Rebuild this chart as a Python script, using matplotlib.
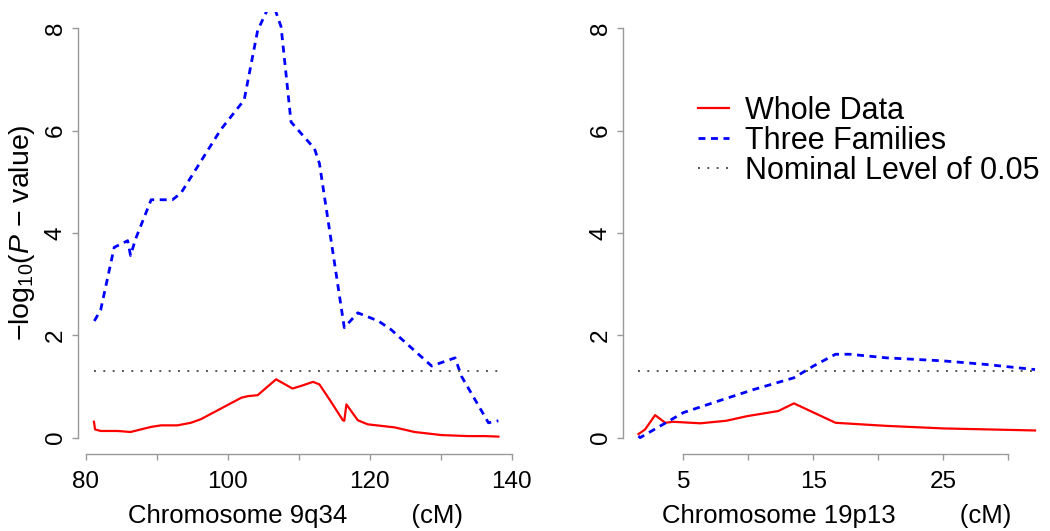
import numpy as np
import matplotlib
matplotlib.use("Agg")
import matplotlib.pyplot as plt

plt.rcParams['font.family'] = ['Liberation Sans', 'DejaVu Sans']
plt.rcParams['mathtext.fontset'] = 'custom'
plt.rcParams['mathtext.rm'] = 'Liberation Sans'
plt.rcParams['mathtext.it'] = 'Liberation Sans:italic'

# chromosome 9q34 (cM, -log10 p)
cm9_three = [81.2, 82.1, 84.0, 85.9, 86.3, 87.0, 89.2, 92.2, 93.4, 99.0, 102.3,
             104.2, 106.2, 107.5, 108.9, 112.2, 112.9, 116.4, 118.3, 121.2,
             123.0, 128.7, 132.0, 132.9, 136.7, 138.1]
p9_three = [2.28, 2.5, 3.72, 3.85, 3.56, 3.88, 4.65, 4.65, 4.78, 6.02, 6.6,
            7.96, 8.55, 8.03, 6.17, 5.65, 5.36, 2.15, 2.44, 2.28,
            2.11, 1.40, 1.56, 1.20, 0.29, 0.33]

cm9_whole = [81.15, 81.3, 82.1, 84.5, 86.3, 89.2, 90.6, 92.9, 94.8, 96.2, 101.9,
             102.8, 104.2, 106.8, 109.1, 110.3, 112.0, 112.9, 114.3, 116.2,
             116.4, 116.7, 118.3, 119.7, 123.5, 126.3, 130.1, 133.8, 136.2, 138.1]
p9_whole = [0.31, 0.16, 0.13, 0.13, 0.11, 0.21, 0.24, 0.24, 0.29, 0.36, 0.78,
            0.81, 0.83, 1.14, 0.96, 1.01, 1.09, 1.04, 0.75, 0.34,
            0.33, 0.65, 0.34, 0.26, 0.20, 0.11, 0.05, 0.03, 0.03, 0.02]

# chromosome 19p13
cm19_three = [1.54, 1.67, 5.0, 8.1, 10.4, 13.5, 15.0, 16.7, 17.8, 20.6, 25.0, 28.3, 32.05]
p19_three = [0.03, 0.0, 0.49, 0.75, 0.94, 1.17, 1.40, 1.63, 1.63, 1.56, 1.50, 1.43, 1.33]

cm19_whole = [1.54, 2.05, 2.82, 3.6, 4.2, 6.3, 8.3, 9.9, 12.3, 13.5, 16.7, 20.6, 25.0, 32.05]
p19_whole = [0.07, 0.16, 0.44, 0.29, 0.31, 0.28, 0.33, 0.42, 0.52, 0.67, 0.29, 0.23, 0.18, 0.14]

nominal = -np.log10(0.05)

W, H = 1050, 531
fig = plt.figure(figsize=(W / 100, H / 100), dpi=100)

def px_axes(x0, x1, y0, y1):
    return fig.add_axes([x0 / W, 1 - y1 / H, (x1 - x0) / W, (y1 - y0) / H])

ax1 = px_axes(78, 514, 12, 454)
ax2 = px_axes(623, 1050, 12, 454)

panels = [
    (ax1, cm9_whole, p9_whole, cm9_three, p9_three, (78.9, 140.3),
     np.arange(80, 141, 10), [80, 100, 120, 140], "Chromosome 9q34         (cM)", (80, 140)),
    (ax2, cm19_whole, p19_whole, cm19_three, p19_three, (0.35, 33.2),
     np.arange(5, 31, 5), [5, 15, 25], "Chromosome 19p13         (cM)", (5, 30)),
]

for ax, xw, yw, xt, yt, xlim, xticks, xlab, xlabel, xb in panels:
    ax.plot(xw, yw, color='#ff0000', lw=1.6, label='Whole Data')
    ax.plot(xt, yt, color='#0000ff', lw=2.0, ls=(0, (2.5, 2.0)), label='Three Families')
    ax.plot([min(xw), max(xw)], [nominal, nominal], color='#555555', lw=1.4,
            ls=(0, (1, 3.8)), label='Nominal Level of 0.05')
    ax.set_xlim(*xlim)
    ax.set_ylim(-0.32, 8.32)
    ax.set_xticks(xticks)
    ax.set_xticklabels([str(t) if t in xlab else '' for t in xticks])
    ax.set_yticks([0, 2, 4, 6, 8])
    ax.set_yticklabels(['0', '2', '4', '6', '8'], rotation=90, va='center')
    for s in ['top', 'right']:
        ax.spines[s].set_visible(False)
    ax.spines['left'].set_bounds(0, 8)
    ax.spines['bottom'].set_bounds(*xb)
    for s in ['left', 'bottom']:
        ax.spines[s].set_color('#999999')
        ax.spines[s].set_linewidth(1.0)
    ax.tick_params(axis='both', direction='out', length=4, width=1.0,
                   color='#999999', labelsize=17.5)
    ax.tick_params(axis='x', pad=8)
    ax.tick_params(axis='y', pad=4)
    ax.set_xlabel(xlabel, fontsize=18.5, labelpad=8)

ax1.set_ylabel('\u2212log$_{10}$($P$ \u2212 value)', fontsize=20.5, labelpad=6)

ax2.legend(loc='upper left', bbox_to_anchor=(698 / W, 1 - 96 / H),
           bbox_transform=fig.transFigure, frameon=False, fontsize=22,
           borderaxespad=0, borderpad=0, handlelength=1.0, handletextpad=0.55,
           labelspacing=0.0)

fig.savefig("out.png", dpi=100)
